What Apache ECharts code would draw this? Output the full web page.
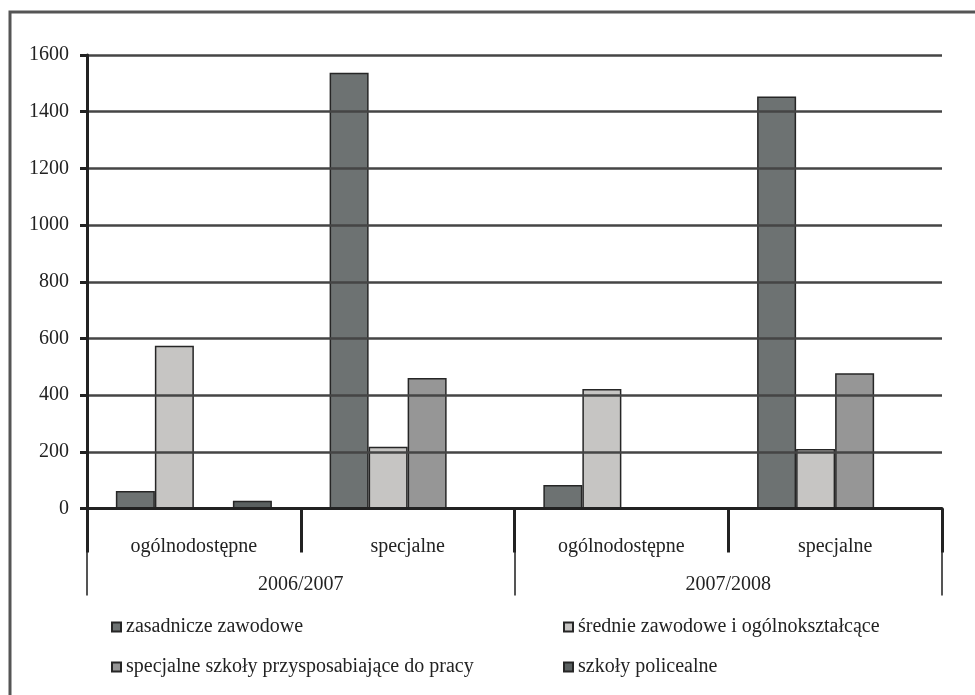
<!DOCTYPE html>
<html>
<head>
<meta charset="utf-8">
<script src="https://cdn.jsdelivr.net/npm/echarts@6/dist/echarts.min.js"></script>
<style>
html,body{margin:0;padding:0;background:#fff;}
#c{width:975px;height:695px;}
</style>
</head>
<body>
<div id="c"></div>
<script>
// ---- data ----
var categories = ['ogólnodostępne', 'specjalne', 'ogólnodostępne', 'specjalne'];
var groups = ['2006/2007', '2007/2008'];
var seriesNames = [
  'zasadnicze zawodowe',
  'średnie zawodowe i ogólnokształcące',
  'specjalne szkoły przysposabiające do pracy',
  'szkoły policealne'
];
var zasadnicze = [62, 1537, 83, 1454];
var srednie = [574, 218, 422, 210];
var specjalneSzkoly = [0, 460, 0, 477];
var policealne = [27, 2, 2, 2];
var yTicks = [0, 200, 400, 600, 800, 1000, 1200, 1400, 1600];

// ---- chart ----
var FONT = '"Liberation Serif", "DejaVu Serif", serif';
var colors = ['#6d7272', '#c6c5c3', '#969696', '#5a6060'];
var values = [zasadnicze, srednie, specjalneSzkoly, policealne];

var chart = echarts.init(document.getElementById('c'), null, {renderer: 'canvas'});

var series = seriesNames.map(function (n, i) {
  return {
    name: n,
    type: 'bar',
    xAxisIndex: 0,
    data: values[i],
    barGap: '0%',
    barCategoryGap: '27%',
    itemStyle: {color: colors[i], borderColor: '#262626', borderWidth: 1.5},
    emphasis: {disabled: true},
    animation: false
  };
});

var legendPos = [
  {left: 111, top: 617},
  {left: 563, top: 617},
  {left: 111, top: 657},
  {left: 563, top: 657}
];
var legends = seriesNames.map(function (n, i) {
  return {
    data: [n],
    left: legendPos[i].left,
    top: legendPos[i].top,
    padding: 0,
    icon: 'rect',
    itemWidth: 9,
    itemHeight: 9,
    selectedMode: false,
    textStyle: {fontFamily: FONT, fontSize: 20, color: '#222'}
  };
});

chart.setOption({
  backgroundColor: '#fff',
  animation: false,
  graphic: [{
    type: 'rect',
    shape: {x: 10, y: 12, width: 1000, height: 800},
    style: {fill: 'none', stroke: '#555', lineWidth: 3},
    silent: true,
    z: -10
  }],
  legend: legends,
  grid: {left: 87, right: 33, top: 55, bottom: 186.5, containLabel: false},
  xAxis: [{
    type: 'category',
    data: categories,
    position: 'bottom',
    axisLine: {show: true, lineStyle: {color: '#222', width: 3}},
    axisTick: {show: true, length: 44, alignWithLabel: false, lineStyle: {color: '#222', width: 3}},
    axisLabel: {margin: 28, fontFamily: FONT, fontSize: 20, color: '#222', interval: 0},
    splitLine: {show: false},
    z: 5
  }, {
    type: 'category',
    data: groups,
    position: 'bottom',
    axisLine: {show: false},
    axisTick: {show: true, length: 87, alignWithLabel: false, lineStyle: {color: '#555', width: 2}},
    axisLabel: {margin: 66, fontFamily: FONT, fontSize: 20, color: '#222', interval: 0},
    splitLine: {show: false}
  }],
  yAxis: {
    type: 'value',
    min: yTicks[0],
    max: yTicks[yTicks.length - 1],
    interval: yTicks[1] - yTicks[0],
    axisLine: {show: true, lineStyle: {color: '#222', width: 3}},
    axisTick: {show: true, length: 7, lineStyle: {color: '#222', width: 3}},
    axisLabel: {margin: 18, fontFamily: FONT, fontSize: 20, color: '#222',
      formatter: function (v) { return String(v); }},
    splitLine: {show: true, lineStyle: {color: '#454545', width: 2.5}},
    z: 5
  },
  series: series
});
</script>
</body>
</html>
